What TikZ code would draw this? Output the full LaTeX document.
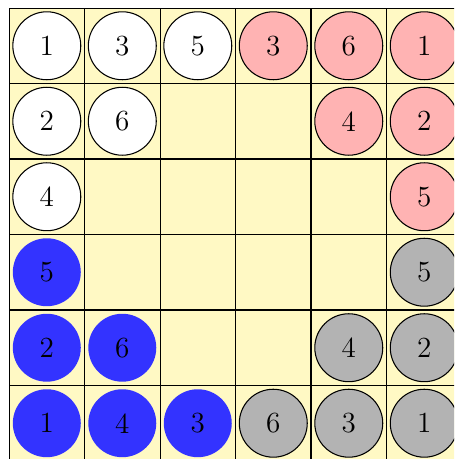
\documentclass[tikz,border=0pt]{standalone}
\usepackage{xcolor}
\usepackage{tikz}
\usetikzlibrary{positioning}
\definecolor{bdBoard}{HTML}{FFF9C4}
\definecolor{bdRed}{HTML}{FFB3B3}
\definecolor{bdGray}{HTML}{B3B3B3}
\definecolor{bdBlue}{HTML}{3333FF}
\tikzset{
  piece/.style={circle, minimum size=9mm, inner sep=0pt, font=\fontsize{11}{13}\selectfont},
  whitep/.style={piece, draw=black, fill=white},
  redp/.style={piece, draw=black, fill=bdRed},
  grayp/.style={piece, draw=black, fill=bdGray},
  bluep/.style={piece, fill=bdBlue},
  board/.style={fill=bdBoard, draw=black}
}

\begin{document}
\begin{tikzpicture}
  \clip (-0.12,0.106) rectangle (5.894,-5.974);
  % board
  \fill[bdBoard] (0,0) rectangle (6,-6);
  \draw (0,-6) grid (6,0);
  % pieces: col/row/style/label
  \foreach \c/\r/\s/\t in {
    0/0/whitep/1, 1/0/whitep/3, 2/0/whitep/5, 0/1/whitep/2, 1/1/whitep/6, 0/2/whitep/4,
    3/0/redp/3, 4/0/redp/6, 5/0/redp/1, 4/1/redp/4, 5/1/redp/2, 5/2/redp/5,
    0/3/bluep/5, 0/4/bluep/2, 1/4/bluep/6, 0/5/bluep/1, 1/5/bluep/4, 2/5/bluep/3,
    5/3/grayp/5, 4/4/grayp/4, 5/4/grayp/2, 3/5/grayp/6, 4/5/grayp/3, 5/5/grayp/1}{
    \node[\s] (p\c\r) at (\c+0.5,-\r-0.5) {\t};
  }
\end{tikzpicture}
\end{document}
